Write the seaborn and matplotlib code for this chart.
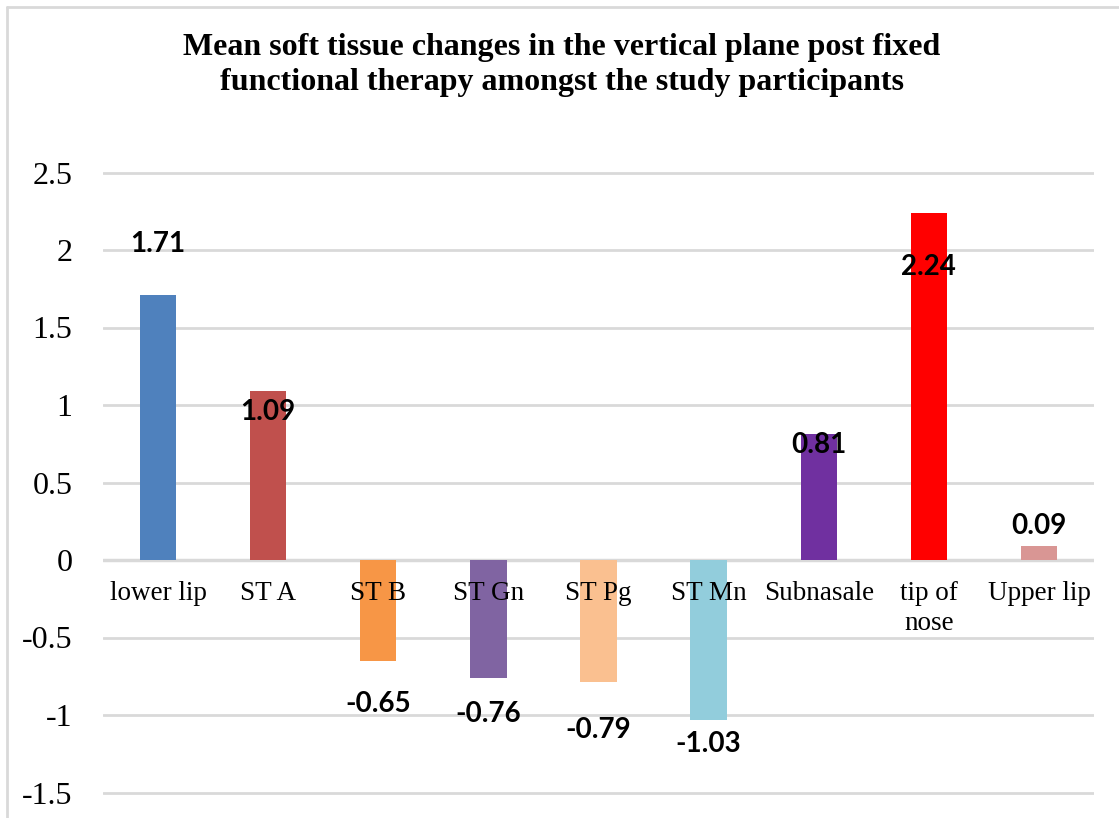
import matplotlib
matplotlib.use("Agg")
import matplotlib.pyplot as plt
import seaborn as sns
import pandas as pd
from matplotlib.lines import Line2D

categories = ["lower lip", "ST A", "ST B", "ST Gn", "ST Pg", "ST Mn",
              "Subnasale", "tip of\nnose", "Upper lip"]
values = [1.71, 1.09, -0.65, -0.76, -0.79, -1.03, 0.81, 2.24, 0.09]
value_labels = ["1.71", "1.09", "-0.65", "-0.76", "-0.79", "-1.03", "0.81", "2.24", "0.09"]
y_ticks = [-1.5, -1, -0.5, 0, 0.5, 1, 1.5, 2, 2.5]
y_tick_labels = ["-1.5", "-1", "-0.5", "0", "0.5", "1", "1.5", "2", "2.5"]

colors = ["#4F81BD", "#C0504D", "#F79646", "#8064A2", "#FAC090",
          "#92CDDC", "#7030A0", "#FF0000", "#D99694"]
# label offsets from bar end, in pixels (positive = down)
label_offsets_px = [-51, 21, 43, 36, 48, 24, 11, 54, -20]

sns.set_theme(style="white")
plt.rcParams["font.family"] = ["Liberation Serif", "DejaVu Serif"]

W, H = 1119, 818
fig = plt.figure(figsize=(W / 100, H / 100), dpi=100)
fig.patch.set_facecolor("white")

ymin, ymax = -1.6, 2.6
px_per_unit = 155.0
top_px = 560 - ymax * px_per_unit
bot_px = 560 - ymin * px_per_unit
left_px, right_px = 103, 1094
ax = fig.add_axes([left_px / W, 1 - bot_px / H, (right_px - left_px) / W, (bot_px - top_px) / H])

df = pd.DataFrame({"cat": categories, "val": values})
sns.barplot(data=df, x="cat", y="val", hue="cat", order=categories,
            palette=colors, width=0.33, legend=False, saturation=1, ax=ax,
            linewidth=0, edgecolor="none", zorder=3)

ax.set_ylim(ymin, ymax)
ax.set_yticks(y_ticks)
ax.set_yticklabels(y_tick_labels, fontsize=23, color="#000000")
ax.tick_params(axis="y", length=0, pad=22)
ax.set_xticks([])
ax.set_xlabel("")
ax.set_ylabel("")
for s in ax.spines.values():
    s.set_visible(False)
ax.yaxis.grid(True, color="#d9d9d9", linewidth=2)
ax.set_axisbelow(True)
ax.axhline(0, color="#d9d9d9", linewidth=2.5, zorder=2)

for i, cat in enumerate(categories):
    ax.annotate(cat, xy=(i, 0), xytext=(0, -21), textcoords="offset pixels",
                ha="center", va="top", fontsize=19.5, color="#000000",
                linespacing=1.25)

for i, (v, lab, off) in enumerate(zip(values, value_labels, label_offsets_px)):
    ax.annotate(lab, xy=(i, v), xytext=(0, -off), textcoords="offset pixels",
                ha="center", va="center", fontsize=20, fontweight="bold",
                family=["Lato", "DejaVu Sans"], color="#000000", zorder=5)

fig.text(0.502, 1 - 65 / H,
         "Mean soft tissue changes in the vertical plane post fixed\nfunctional therapy amongst the study participants",
         ha="center", va="center", fontsize=23, fontweight="bold", linespacing=1.28,
         color="#000000")

# outer chart frame
fig.add_artist(Line2D([7 / W, 1], [1 - 7 / H, 1 - 7 / H], color="#d9d9d9", linewidth=2,
                      transform=fig.transFigure))
fig.add_artist(Line2D([7 / W, 7 / W], [0, 1 - 7 / H], color="#d9d9d9", linewidth=2,
                      transform=fig.transFigure))

fig.savefig("out.png", dpi=100, facecolor="white")
